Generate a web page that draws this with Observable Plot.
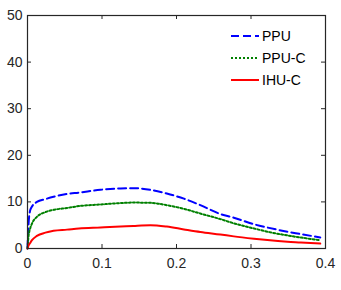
<!DOCTYPE html>
<html>
<head>
<meta charset="utf-8">
<script src="https://cdn.jsdelivr.net/npm/d3@7"></script>
<script src="https://cdn.jsdelivr.net/npm/@observablehq/plot@0.6"></script>
<style>
  html, body { margin: 0; padding: 0; background: #fff; }
  #wrap { position: relative; width: 341px; height: 290px; font-family: "Liberation Sans", Arial, sans-serif; }
  #legend { position: absolute; left: 231px; top: 25px; font-size: 14px; color: #000; }
  .item { display: flex; align-items: center; height: 22px; }
  .item svg { width: 28px; height: 10px; margin-right: 3px; }
</style>
</head>
<body>
<div id="wrap"><div id="legend"></div></div>
<script>
const xs = [0, 0.0013, 0.0036, 0.006, 0.0126, 0.024, 0.035, 0.053, 0.069, 0.098, 0.125, 0.142, 0.165, 0.187, 0.21, 0.232, 0.259, 0.277, 0.304, 0.322, 0.349, 0.367, 0.393];
const ppu  = [0, 5.0, 8.2, 9.0, 10.0, 10.6, 11.1, 11.7, 12.0, 12.6, 12.9, 12.95, 12.6, 11.8, 10.7, 9.3, 7.4, 6.6, 5.2, 4.5, 3.6, 3.1, 2.35];
const ppuc = [0, 2.5, 4.3, 5.35, 6.8, 7.8, 8.3, 8.7, 9.1, 9.45, 9.75, 9.85, 9.8, 9.3, 8.5, 7.5, 6.3, 5.4, 4.3, 3.6, 2.8, 2.35, 1.8];
const ihuc = [0, 0.6, 1.2, 1.8, 2.7, 3.4, 3.8, 4.05, 4.3, 4.5, 4.7, 4.85, 5.0, 4.7, 4.1, 3.55, 3.0, 2.6, 2.1, 1.8, 1.45, 1.3, 1.05];
const seriesNames = ["PPU", "PPU-C", "IHU-C"];
const xTicks = [0, 0.1, 0.2, 0.3, 0.4];
const yTicks = [0, 10, 20, 30, 40, 50];

const styles = {
  "PPU":   {stroke: "#0000ff", dash: "8,4"},
  "PPU-C": {stroke: "#008000", dash: "2,2"},
  "IHU-C": {stroke: "#ff0000", dash: null}
};
const vals = {"PPU": ppu, "PPU-C": ppuc, "IHU-C": ihuc};
const rows = seriesNames.flatMap(s => xs.map((x, i) => ({s, x, y: vals[s][i]})));

const W = 341, H = 290, mL = 27, mR = 16, mT = 15, mB = 42;
const innerW = W - mL - mR, innerH = H - mT - mB, tk = 4;
const axisColor = "#262626";
const lineMarks = seriesNames.map(s => Plot.line(rows.filter(r => r.s === s), {
  x: "x", y: "y", stroke: styles[s].stroke, strokeWidth: 2,
  strokeDasharray: styles[s].dash, curve: "monotone-x"
}));

const chart = Plot.plot({
  width: W, height: H,
  marginLeft: mL, marginRight: mR, marginTop: mT, marginBottom: mB,
  style: {fontFamily: "Liberation Sans, Arial, sans-serif", fontSize: "14px", color: axisColor, background: "#fff"},
  x: {domain: [0, 0.4]},
  y: {domain: [0, 50]},
  marks: [
    ...lineMarks,
    Plot.axisX(xTicks, {tickSize: 0, tickPadding: 10, fontSize: 14, fill: axisColor, label: null, tickFormat: d => d === 0 ? "0" : String(d)}),
    Plot.axisY(yTicks, {tickSize: 0, tickPadding: 5, fontSize: 14, fill: axisColor, label: null}),
    Plot.tickX(xTicks, {x: d => d, stroke: axisColor, insetTop: innerH - tk}),
    Plot.tickX(xTicks, {x: d => d, stroke: axisColor, insetBottom: innerH - tk}),
    Plot.tickY(yTicks, {y: d => d, stroke: axisColor, insetRight: innerW - tk}),
    Plot.tickY(yTicks, {y: d => d, stroke: axisColor, insetLeft: innerW - tk}),
    Plot.frame({stroke: axisColor, strokeWidth: 1.2})
  ]
});
const wrap = document.getElementById("wrap");
wrap.insertBefore(chart, wrap.firstChild);
chart.style.position = "absolute";
chart.style.left = "0";
chart.style.top = "0";

const legend = document.getElementById("legend");
for (const s of seriesNames) {
  const st = styles[s];
  const div = document.createElement("div");
  div.className = "item";
  div.innerHTML = `<svg><line x1="0" y1="5" x2="28" y2="5" stroke="${st.stroke}" stroke-width="2" ${st.dash ? `stroke-dasharray="${st.dash}"` : ""}/></svg><span>${s}</span>`;
  legend.appendChild(div);
}
</script>
</body>
</html>
